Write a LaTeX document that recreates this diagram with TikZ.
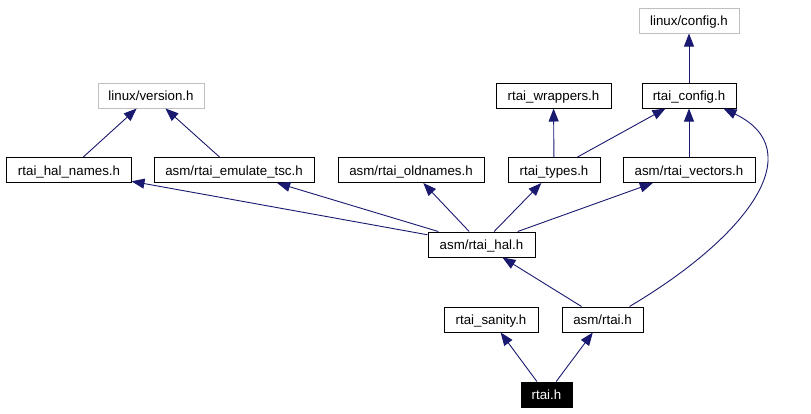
\documentclass[tikz,border=0pt]{standalone}
\usepackage{fontspec}
\setmainfont{Liberation Sans}
\usetikzlibrary{arrows.meta}
\definecolor{linkblue}{HTML}{191970}
\definecolor{extgray}{HTML}{BFBFBF}

\begin{document}
\begin{tikzpicture}[x=1bp,y=-1bp,
  incfile/.style={draw,line width=1bp,minimum height=25bp,inner sep=0pt,
    text height=12bp,text depth=2bp,font=\fontsize{13.3bp}{15bp}\selectfont},
  incext/.style={incfile,draw=extgray},
  incroot/.style={incfile,fill=black,text=white},
  inclink/.style={draw=linkblue,line width=0.9bp,
    {Triangle[length=13bp,width=10bp]}-}]
  \useasboundingbox (0,0) rectangle (811,413);
  % top rows
  \node[incext,minimum width=100bp] (lnxconfig) at (689,20.5) {linux/config.h};
  \node[incext,minimum width=106bp] (lnxversion) at (151,95.5) {linux/version.h};
  \node[incfile,minimum width=115bp] (wrappers) at (553.5,95.5) {rtai\_wrappers.h};
  \node[incfile,minimum width=94bp] (rtaiconfig) at (689,95.5) {rtai\_config.h};
  % middle row
  \node[incfile,minimum width=124bp] (halnames) at (69,170) {rtai\_hal\_names.h};
  \node[incfile,minimum width=160bp] (emulatetsc) at (234,170) {asm/rtai\_emulate\_tsc.h};
  \node[incfile,minimum width=146bp] (oldnames) at (411,170) {asm/rtai\_oldnames.h};
  \node[incfile,minimum width=92bp] (types) at (554,170) {rtai\_types.h};
  \node[incfile,minimum width=132bp] (vectors) at (689,170) {asm/rtai\_vectors.h};
  % lower rows
  \node[incfile,minimum width=107bp] (hal) at (481.5,244.5) {asm/rtai\_hal.h};
  \node[incfile,minimum width=94bp] (sanity) at (491,319.5) {rtai\_sanity.h};
  \node[incfile,minimum width=81bp] (asmrtai) at (602.5,319.5) {asm/rtai.h};
  \node[incroot,minimum width=51bp] (rtai) at (546.5,394.5) {rtai.h};
  % includes
  \draw[inclink] (lnxconfig) -- (rtaiconfig);
  \draw[inclink] (lnxversion) -- (halnames);
  \draw[inclink] (lnxversion) -- (emulatetsc);
  \draw[inclink] (wrappers) -- (types);
  \draw[inclink] (rtaiconfig) -- (types);
  \draw[inclink] (rtaiconfig) -- (vectors);
  \draw[inclink] (halnames) -- (hal);
  \draw[inclink] (emulatetsc) -- (hal);
  \draw[inclink] (oldnames) -- (hal);
  \draw[inclink] (types) -- (hal);
  \draw[inclink] (vectors) -- (hal);
  \draw[inclink] (hal) -- (asmrtai);
  \draw[inclink] ([xshift=-13bp]rtaiconfig.south east)
    .. controls (810,150) and (750,235) .. ([xshift=-14bp]asmrtai.north east);
  \draw[inclink] (sanity) -- (rtai);
  \draw[inclink] (asmrtai) -- (rtai);
\end{tikzpicture}
\end{document}
